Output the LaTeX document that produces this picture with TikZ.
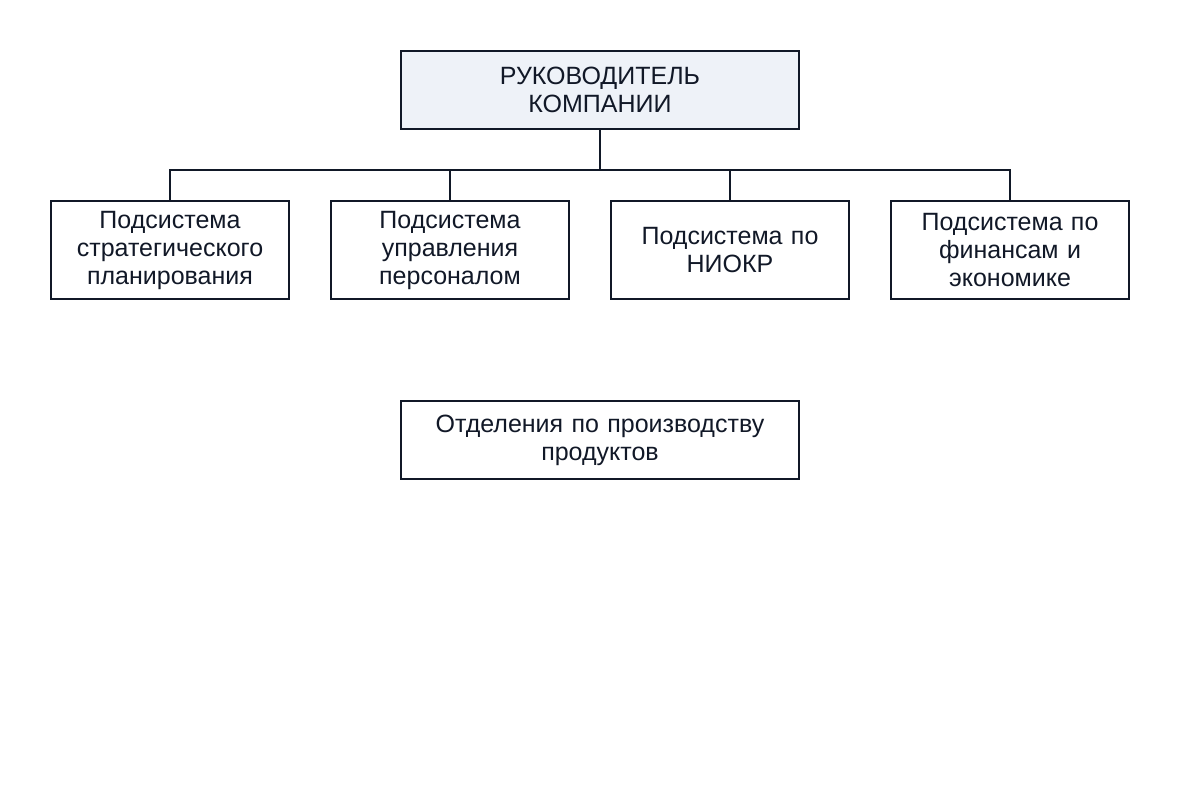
\documentclass[tikz,border=0pt]{standalone}
\usepackage{fontspec}
\setmainfont{Liberation Sans}
\definecolor{ln}{HTML}{111827}
\definecolor{hd}{HTML}{EEF2F8}
\begin{document}
\begin{tikzpicture}[x=1pt,y=-1pt,
 box/.style={draw=ln,line width=2.5pt,inner sep=0pt,align=center,text=ln,
   font=\fontsize{25}{28}\selectfont},
 wide/.style={box,minimum width=398pt,minimum height=78pt,text width=390pt},
 sub/.style={box,minimum width=238pt,minimum height=98pt,text width=236pt},
 con/.style={draw=ln,line width=2.5pt}]
\useasboundingbox (0,0) rectangle (1200,800);
\node[wide,fill=hd] (top) at (600,90) {РУКОВОДИТЕЛЬ\\КОМПАНИИ};
\node[sub] (a) at (170,250) {Подсистема\\стратегического\\планирования};
\node[sub] (b) at (450,250) {Подсистема\\управления\\персоналом};
\node[sub] (c) at (730,250) {Подсистема по\\НИОКР};
\node[sub] (d) at (1010,250) {Подсистема по\\финансам и\\экономике};
\node[wide] (e) at (600,440) {Отделения по производству\\продуктов};
\coordinate (j) at (600,170);
\draw[con] (top.south) -- (j);
\draw[con,line cap=rect] (a.north) |- (j) -| (d.north);
\draw[con] (b.north) -- (b.north|-j);
\draw[con] (c.north) -- (c.north|-j);
\end{tikzpicture}
\end{document}
